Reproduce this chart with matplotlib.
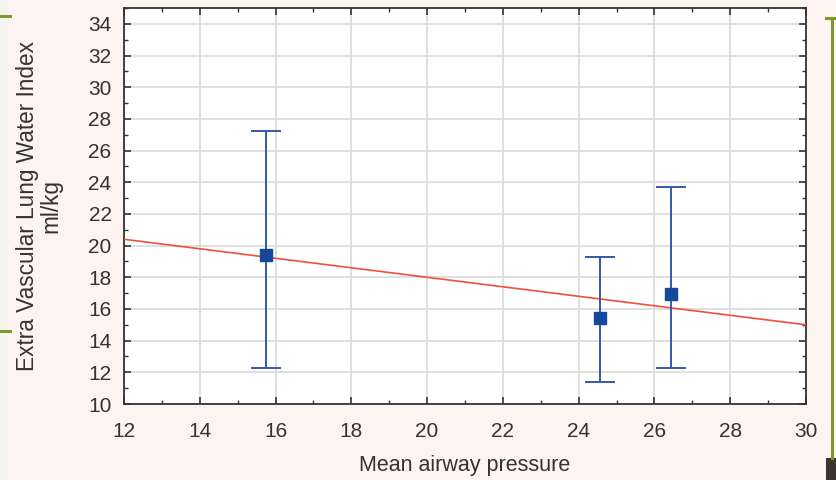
import matplotlib
matplotlib.use("Agg")
import matplotlib.pyplot as plt
from matplotlib.ticker import MultipleLocator
from matplotlib.patches import Rectangle
from matplotlib.lines import Line2D

# Mean airway pressure vs EVLWI (means with error bars)
pressure = [15.75, 24.55, 26.45]
evlwi = [19.4, 15.45, 16.95]
err_low = [12.25, 11.4, 12.25]
err_high = [27.25, 19.3, 23.7]

# fitted regression line (end points)
fit_x = [12, 30]
fit_y = [20.4, 15.0]

plt.rcParams['font.family'] = ['Liberation Sans', 'DejaVu Sans']

fig = plt.figure(figsize=(8.36, 4.8), dpi=100)
fig.patch.set_facecolor('#fcf4f1')

# slide decorations round the picture
fig.add_artist(Rectangle((0, 0), 8 / 836, 1, transform=fig.transFigure,
                         color='#f5f4ef', lw=0))
fig.add_artist(Line2D([0, 10 / 836], [1 - 16 / 480] * 2, transform=fig.transFigure,
                      color='#7a9a2a', lw=2.2))
fig.add_artist(Line2D([0, 10 / 836], [1 - 331 / 480] * 2, transform=fig.transFigure,
                      color='#7a9a2a', lw=2.2))
fig.add_artist(Line2D([826 / 836, 1], [1 - 18 / 480] * 2, transform=fig.transFigure,
                      color='#7a9a2a', lw=2.2))
fig.add_artist(Line2D([831.5 / 836] * 2, [1 - 18 / 480, 1 - 458 / 480],
                      transform=fig.transFigure, color='#7a9a2a', lw=2.2))
fig.add_artist(Rectangle((826 / 836, 0), 10 / 836, 22 / 480, transform=fig.transFigure,
                         color='#3b342e', lw=0))

ax = fig.add_axes([124 / 836, 1 - 404 / 480, 682 / 836, 396 / 480])
ax.set_facecolor('white')

ax.plot(fit_x, fit_y, color='#f0503c', lw=1.2, zorder=3)

lower = [m - lo for m, lo in zip(evlwi, err_low)]
upper = [hi - m for m, hi in zip(evlwi, err_high)]
ax.errorbar(pressure, evlwi, yerr=[lower, upper], fmt='s', color='#15479a',
            ms=8, ecolor='#3558a8', elinewidth=1.4, capsize=11, capthick=1.4,
            zorder=4)

ax.set_xlim(12, 30)
ax.set_ylim(10, 35)
ax.xaxis.set_major_locator(MultipleLocator(2))
ax.xaxis.set_minor_locator(MultipleLocator(1))
ax.yaxis.set_major_locator(MultipleLocator(2))
ax.yaxis.set_minor_locator(MultipleLocator(1))

ax.grid(True, which='major', color='#dadada', lw=1.2)
ax.set_axisbelow(True)

ax.tick_params(which='both', direction='in', top=True, right=True,
               colors='#333333', labelsize=15)
ax.tick_params(which='major', length=5, width=1.2)
ax.tick_params(which='minor', length=3, width=1.0)
ax.tick_params(axis='x', which='major', pad=13)
ax.tick_params(axis='y', which='major', pad=9)
for s in ax.spines.values():
    s.set_color('#333333')
    s.set_linewidth(1.3)

ax.set_xlabel('Mean airway pressure', fontsize=15.5, color='#333333')
ax.xaxis.set_label_coords(0.5, -0.13)
ax.set_ylabel('Extra Vascular Lung Water Index\nml/kg', fontsize=16.3,
              color='#333333', linespacing=1.05)
ax.yaxis.set_label_coords(-0.09, 0.5)

fig.savefig('out.png', dpi=100, facecolor=fig.get_facecolor())
